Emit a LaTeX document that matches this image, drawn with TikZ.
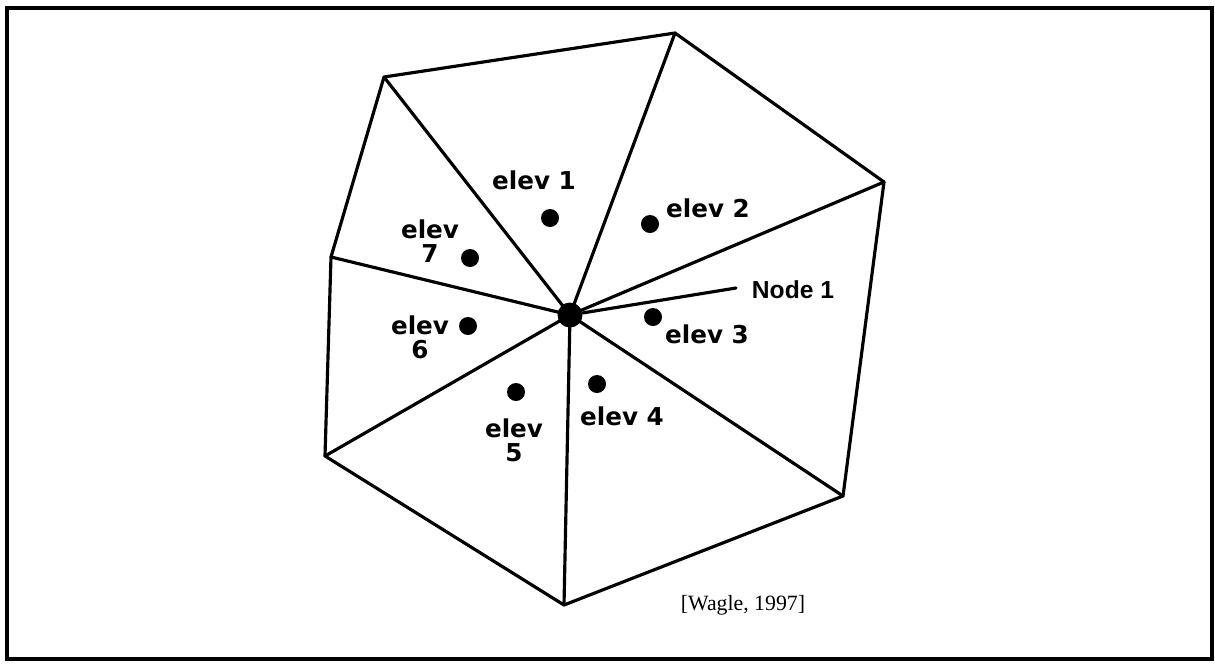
\documentclass[tikz,border=0pt]{standalone}
\usepackage{fontspec}
\setmainfont{Liberation Serif}
\setsansfont{DejaVu Sans}
\newfontfamily\nodefont{Liberation Sans}
\usetikzlibrary{positioning,calc}
\tikzset{
  edge/.style={draw=black, line width=0.9pt, line join=round, line cap=round},
  frame/.style={draw=black, line width=1pt},
  elevpt/.style={circle, fill=black, inner sep=0pt, minimum size=1.8mm},
  hub/.style={circle, fill=black, inner sep=0pt, minimum size=2.5mm},
  lbl/.style={font=\sffamily\bfseries\fontsize{7}{6.8}\selectfont, align=center, inner sep=0pt},
  nlbl/.style={font=\nodefont\bfseries\fontsize{7}{8}\selectfont, inner sep=0pt},
  cite/.style={font=\fontsize{6.2}{7}\selectfont, inner sep=0pt},
}

\begin{document}
\begin{tikzpicture}[x=0.01cm, y=-0.01cm]
\useasboundingbox (0,0) rectangle (1215,663);
\draw[frame] (7,8) rectangle (1212,659);

% mesh vertices
\coordinate (c)  at (570,315);
\coordinate (v1) at (384,77);
\coordinate (v2) at (675,33);
\coordinate (v3) at (884,182);
\coordinate (v4) at (843,496);
\coordinate (v5) at (564,605);
\coordinate (v6) at (325,456);
\coordinate (v7) at (331,257);

\draw[edge] (v1) -- (v2) -- (v3) -- (v4) -- (v5) -- (v6) -- (v7) -- cycle;
\foreach \v in {v1,v2,v3,v4,v5,v6,v7}
  \draw[edge] (c) -- (\v);

% element centres
\node[elevpt] (e1) at (550,218) {};
\node[elevpt] (e2) at (650,224) {};
\node[elevpt] (e3) at (653,317) {};
\node[elevpt] (e4) at (597,384) {};
\node[elevpt] (e5) at (516,392) {};
\node[elevpt] (e6) at (468,326) {};
\node[elevpt] (e7) at (470,258) {};

\node[lbl] (l1) at (534,180) {elev 1};
\node[lbl] (l2) at (708,208) {elev 2};
\node[lbl] (l3) at (707,334) {elev 3};
\node[lbl] (l4) at (622,416) {elev 4};
\node[lbl] (l5) at (514,440) {elev\\5};
\node[lbl] (l6) at (420,337) {elev\\6};
\node[lbl] (l7) at (430,241) {elev\\7};

\node[hub] (n1) at (c) {};
\node[nlbl] (nl) at (793,290) {Node 1};
\coordinate (lead) at (736,288);
\draw[edge] (n1) -- (lead);

\node[cite] (src) at (743,605) {[Wagle, 1997]};
\end{tikzpicture}
\end{document}
